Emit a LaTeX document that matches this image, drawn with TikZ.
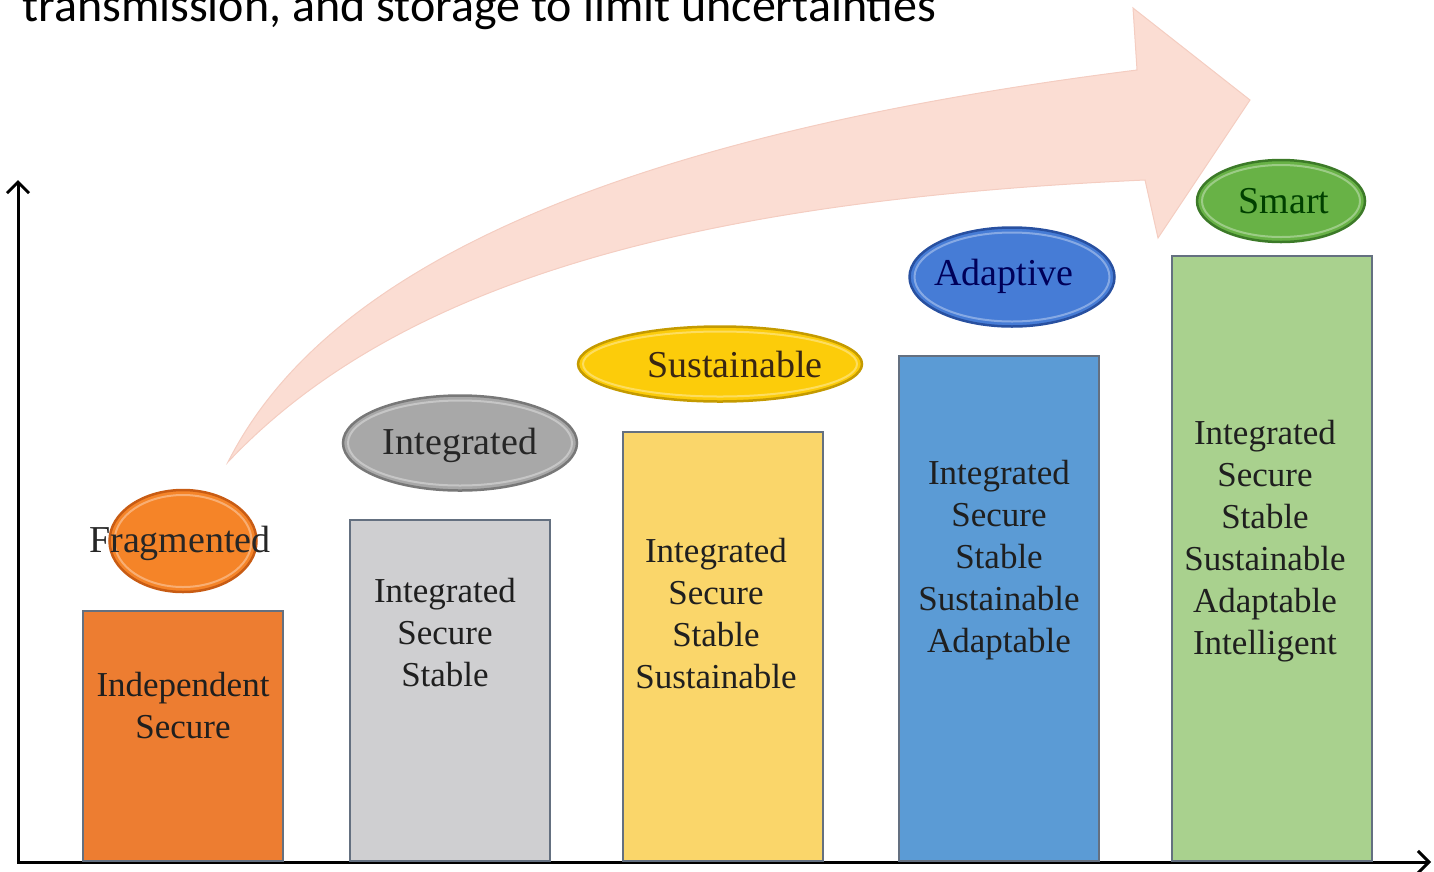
\documentclass[tikz,border=0pt]{standalone}
\usepackage{fontspec}
\setmainfont{Liberation Serif}
\newfontfamily\headfont{Carlito}
\usetikzlibrary{shapes.geometric,arrows.meta}

\definecolor{arrowpink}{RGB}{251,221,211}
\definecolor{arrowedge}{RGB}{244,205,193}
\definecolor{barline}{RGB}{100,112,128}
\definecolor{barorange}{RGB}{237,125,49}
\definecolor{bargrey}{RGB}{207,207,209}
\definecolor{baryellow}{RGB}{250,214,106}
\definecolor{barblue}{RGB}{91,155,213}
\definecolor{bargreen}{RGB}{169,209,142}
\definecolor{ovorange}{RGB}{245,132,40}
\definecolor{ovorangeD}{RGB}{200,92,20}
\definecolor{ovgrey}{RGB}{168,168,168}
\definecolor{ovgreyD}{RGB}{120,120,120}
\definecolor{ovyellow}{RGB}{252,204,10}
\definecolor{ovyellowD}{RGB}{196,154,0}
\definecolor{ovblue}{RGB}{70,124,214}
\definecolor{ovblueD}{RGB}{40,80,160}
\definecolor{ovgreen}{RGB}{104,178,70}
\definecolor{ovgreenD}{RGB}{60,122,40}

\tikzset{
  bar/.style={draw=barline, line width=1.6, minimum width=200, inner sep=0, anchor=south},
  bartext/.style={align=center, text=black!88, font=\fontsize{35}{42}\selectfont},
  oval/.style n args={2}{ellipse, fill=#1, draw=#2, line width=2.5, inner sep=0},
  gloss/.style={ellipse, draw=white, draw opacity=0.35, line width=2, inner sep=0},
  ovaltext/.style={text=black!85, font=\fontsize{38}{44}\selectfont},
  axis/.style={line width=3, {Straight Barb[length=11,width=22]}-{Straight Barb[length=11,width=22]}},
}

\begin{document}
\begin{tikzpicture}[x=1pt,y=-1pt]
\useasboundingbox (0,0) rectangle (1434,871);

% caption line, running off the top edge
\node[anchor=base west, inner sep=0, font=\headfont\fontsize{48}{56}\selectfont] (caption) at (22,21)
  {transmission, and storage to limit uncertainties};

% broad curved progress arrow
\fill[arrowpink, draw=arrowedge, line width=1]
  (228,462) .. controls (300,320) and (500,150) .. (1137,70)
  -- (1133,8) -- (1250,100) -- (1158,238) -- (1145,180)
  .. controls (700,200) and (400,280) .. (228,462) -- cycle;

% axes
\coordinate (origin) at (18,862);
\coordinate (ytip) at (18,180);
\coordinate (xtip) at (1431,862);
\draw[axis] (ytip) -- (origin) -- (xtip);

% bars
\node[bar, fill=barorange, minimum height=250] (bar1) at (183,862) {};
\node[bar, fill=bargrey,   minimum height=341] (bar2) at (450,862) {};
\node[bar, fill=baryellow, minimum height=429] (bar3) at (723,862) {};
\node[bar, fill=barblue,   minimum height=505] (bar4) at (999,862) {};
\node[bar, fill=bargreen,  minimum height=605] (bar5) at (1272,862) {};

% bar contents
\node[bartext] (txt1) at (183,706) {Independent\\Secure};
\node[bartext] (txt2) at (445,633) {Integrated\\Secure\\Stable};
\node[bartext] (txt3) at (716,614) {Integrated\\Secure\\Stable\\Sustainable};
\node[bartext] (txt4) at (999,560) {Integrated\\Secure\\Stable\\Sustainable\\Adaptable};
\node[bartext] (txt5) at (1265,541) {Integrated\\Secure\\Stable\\Sustainable\\Adaptable\\Intelligent};

% stage labels: glossy ovals
\node[oval={ovorange}{ovorangeD}, minimum width=147, minimum height=102] (ov1) at (183,541) {};
\node[oval={ovgrey}{ovgreyD},     minimum width=234, minimum height=95]  (ov2) at (460,443) {};
\node[oval={ovyellow}{ovyellowD}, minimum width=284, minimum height=75]  (ov3) at (720,364) {};
\node[oval={ovblue}{ovblueD},     minimum width=205, minimum height=99]  (ov4) at (1012,277) {};
\node[oval={ovgreen}{ovgreenD},   minimum width=168, minimum height=82]  (ov5) at (1281,201) {};

\node[gloss, minimum width=137, minimum height=92] (gl1) at (ov1) {};
\node[gloss, minimum width=224, minimum height=85] (gl2) at (ov2) {};
\node[gloss, minimum width=274, minimum height=65] (gl3) at (ov3) {};
\node[gloss, minimum width=195, minimum height=89] (gl4) at (ov4) {};
\node[gloss, minimum width=158, minimum height=72] (gl5) at (ov5) {};

\node[ovaltext] (lab1) at (180,543) {Fragmented};
\node[ovaltext] (lab2) at (460,445) {Integrated};
\node[ovaltext, text=black!70!brown] (lab3) at (735,364) {Sustainable};
\node[ovaltext, text=blue!35!black] (lab4) at (1004,276) {Adaptive};
\node[ovaltext, text=green!25!black] (lab5) at (1284,201) {Smart};
\end{tikzpicture}
\end{document}
